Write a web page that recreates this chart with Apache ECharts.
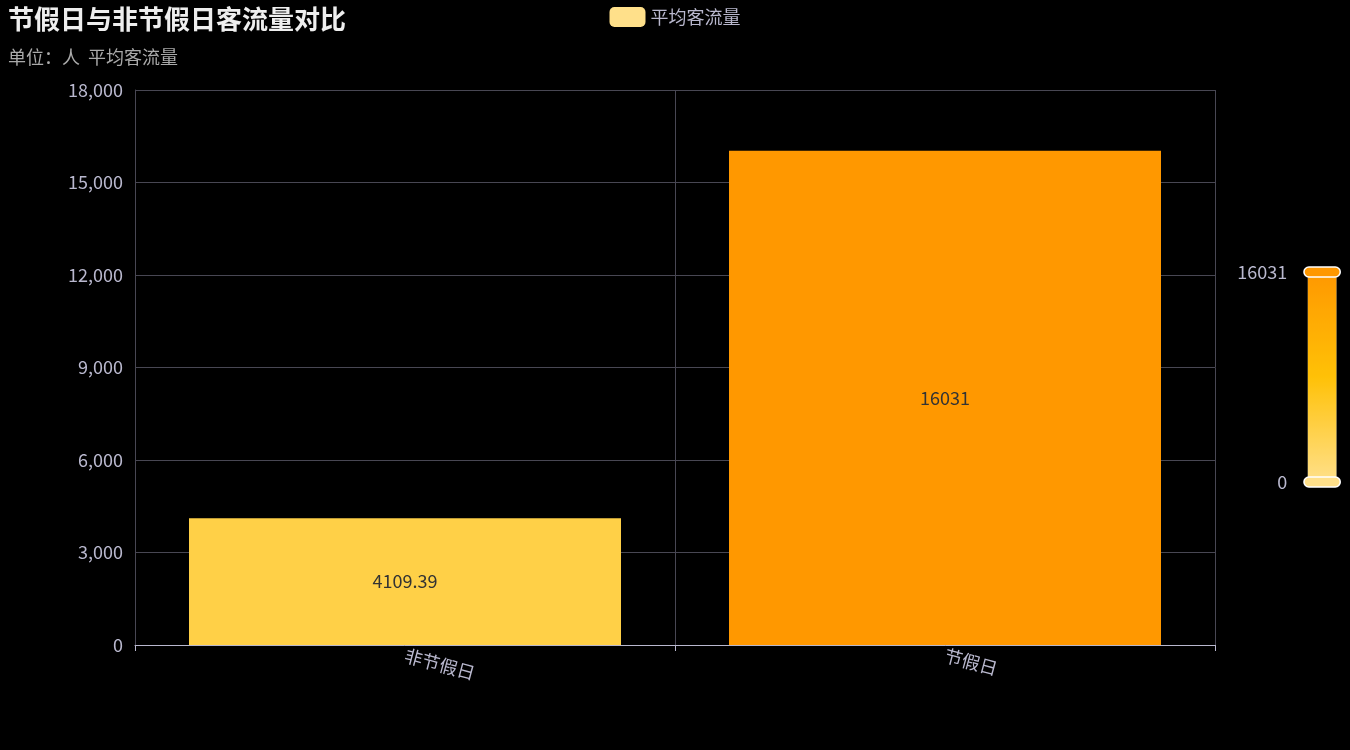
<!DOCTYPE html>
<html><head><meta charset="utf-8">
<script src="https://cdn.jsdelivr.net/npm/echarts@6/dist/echarts.min.js"></script>
<style>html,body{margin:0;padding:0;background:#000;}#c{width:1350px;height:750px;}</style>
</head><body><div id="c"></div>
<script>
const categories = ['非节假日', '节假日'];
const avgFlow = [4109.39, 16031];
const yTicks = { min: 0, max: 18000, interval: 3000 };
const font = '"Noto Sans CJK SC", "Microsoft YaHei", sans-serif';
const chart = echarts.init(document.getElementById('c'), 'dark');
chart.setOption({
  backgroundColor: '#000',
  textStyle: { fontFamily: font },
  title: {
    text: '节假日与非节假日客流量对比',
    subtext: '单位：人  平均客流量',
    left: 3, top: 1,
    itemGap: 16,
    textStyle: { fontSize: 26, fontWeight: 'bold', color: '#eeeeee', fontFamily: font },
    subtextStyle: { fontSize: 18, color: '#aaaaaa', fontFamily: font }
  },
  legend: {
    top: 2, left: 'center',
    icon: 'roundRect', itemWidth: 36, itemHeight: 20,
    textStyle: { fontSize: 18, color: '#b9b8ce', fontFamily: font },
    data: [{ name: '平均客流量', itemStyle: { color: '#FFE08A' } }]
  },
  grid: { left: 135, right: 135, top: 90, bottom: 105 },
  visualMap: {
    type: 'continuous', min: 0, max: 16031, calculable: true,
    right: -6, top: 248, itemWidth: 29, itemHeight: 210,
    precision: 0,
    handleStyle: { borderColor: '#ffffff', borderWidth: 1.5 },
    inRange: { color: ['#FFE08A', '#FFC107', '#FF9800'] },
    textStyle: { color: '#b9b8ce', fontSize: 18, fontFamily: font }
  },
  xAxis: {
    type: 'category', data: categories,
    axisLine: { lineStyle: { color: '#B9B8CE' } },
    axisTick: { show: true, length: 6 },
    splitLine: { show: true, lineStyle: { color: '#484753' } },
    axisLabel: { rotate: -15, fontSize: 18, color: '#b9b8ce', fontFamily: font, margin: 10 }
  },
  yAxis: {
    type: 'value', min: yTicks.min, max: yTicks.max, interval: yTicks.interval,
    axisLine: { show: true, lineStyle: { color: '#484753' } },
    splitLine: { lineStyle: { color: '#484753' } },
    axisLabel: { fontSize: 18, color: '#b9b8ce', fontFamily: font, margin: 12 }
  },
  series: [{
    name: '平均客流量', type: 'bar', data: avgFlow,
    barCategoryGap: '20%',
    label: { show: true, position: 'inside', fontSize: 18, color: '#333', fontFamily: font }
  }]
});
</script></body></html>
